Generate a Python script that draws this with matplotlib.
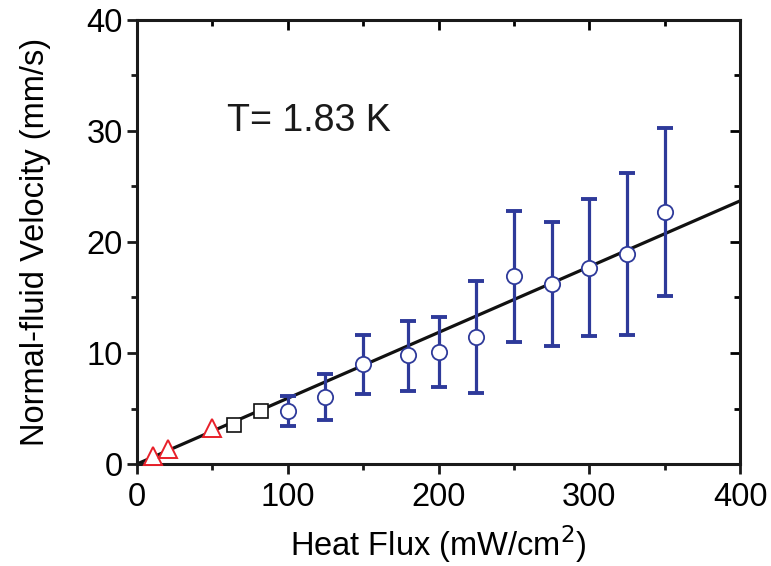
import matplotlib
matplotlib.use("Agg")
import matplotlib.pyplot as plt
from matplotlib.ticker import MultipleLocator

# данные
flux_circ = [100, 125, 150, 180, 200, 225, 250, 275, 300, 325, 350]
vel_circ = [4.8, 6.0, 9.0, 9.8, 10.1, 11.4, 16.9, 16.2, 17.7, 18.9, 22.7]
err_lo = [3.4, 4.0, 6.3, 6.6, 6.9, 6.4, 11.0, 10.6, 11.5, 11.6, 15.1]
err_hi = [6.1, 8.1, 11.6, 12.9, 13.2, 16.5, 22.8, 21.8, 23.9, 26.2, 30.3]

flux_sq = [64.5, 82]
vel_sq = [3.5, 4.8]

flux_tri = [10.5, 20.4, 50]
vel_tri = [0.7, 1.35, 3.2]

fit_x = [0, 400]
fit_y = [0, 23.7]

plt.rcParams["font.family"] = ["Liberation Sans", "DejaVu Sans"]

fig = plt.figure(figsize=(7.71, 5.66), dpi=100)
ax = fig.add_axes([0.1777, 0.1802, 0.7821, 0.7845])

blue = "#2E3A9A"
ax.plot(fit_x, fit_y, color="#111111", lw=2.3, zorder=2)

yerr = [[v - lo for v, lo in zip(vel_circ, err_lo)],
        [hi - v for v, hi in zip(vel_circ, err_hi)]]
ax.errorbar(flux_circ, vel_circ, yerr=yerr, fmt="none", ecolor=blue,
            elinewidth=2.3, capsize=5.5, capthick=2.8, zorder=3)
ax.plot(flux_circ, vel_circ, "o", ms=11, mfc="white", mec=blue, mew=1.3, zorder=4)
ax.plot(flux_sq, vel_sq, "s", ms=10, mfc="white", mec="#111111", mew=1.2, zorder=4)
ax.plot(flux_tri, vel_tri, "^", ms=12.5, mfc="white", mec="#E8202A", mew=1.4,
        zorder=4, clip_on=False)

ax.set_xlim(0, 400)
ax.set_ylim(0, 40)
ax.xaxis.set_major_locator(MultipleLocator(100))
ax.xaxis.set_minor_locator(MultipleLocator(50))
ax.yaxis.set_major_locator(MultipleLocator(10))
ax.yaxis.set_minor_locator(MultipleLocator(5))

for s in ax.spines.values():
    s.set_linewidth(2.2)
    s.set_color("#1a1a1a")

ax.tick_params(which="both", direction="out", width=2, color="#1a1a1a",
               labelsize=23.5, top=False, right=False)
ax.tick_params(axis="x", pad=6)
ax.tick_params(axis="y", pad=3)
ax.tick_params(which="major", length=7)
ax.tick_params(which="minor", length=4)

# верх и правая сторона: тики внутрь
sec_x = ax.secondary_xaxis("top")
sec_x.xaxis.set_major_locator(MultipleLocator(100))
sec_x.xaxis.set_minor_locator(MultipleLocator(50))
sec_x.tick_params(which="both", direction="in", width=2, labeltop=False)
sec_x.tick_params(which="major", length=7)
sec_x.tick_params(which="minor", length=4)
sec_x.spines["top"].set_visible(False)
sec_y = ax.secondary_yaxis("right")
sec_y.yaxis.set_major_locator(MultipleLocator(10))
sec_y.yaxis.set_minor_locator(MultipleLocator(5))
sec_y.tick_params(which="both", direction="in", width=2, labelright=False)
sec_y.tick_params(which="major", length=7)
sec_y.tick_params(which="minor", length=4)
sec_y.spines["right"].set_visible(False)

ax.set_xlabel("Heat Flux (mW/cm$^2$)", fontsize=23.5, labelpad=7)
ax.set_ylabel("Normal-fluid Velocity (mm/s)", fontsize=23.5, labelpad=26)
ax.text(60, 30, "T= 1.83 K", fontsize=27, ha="left", va="baseline", color="#1a1a1a")

fig.savefig("out.png", dpi=100)
